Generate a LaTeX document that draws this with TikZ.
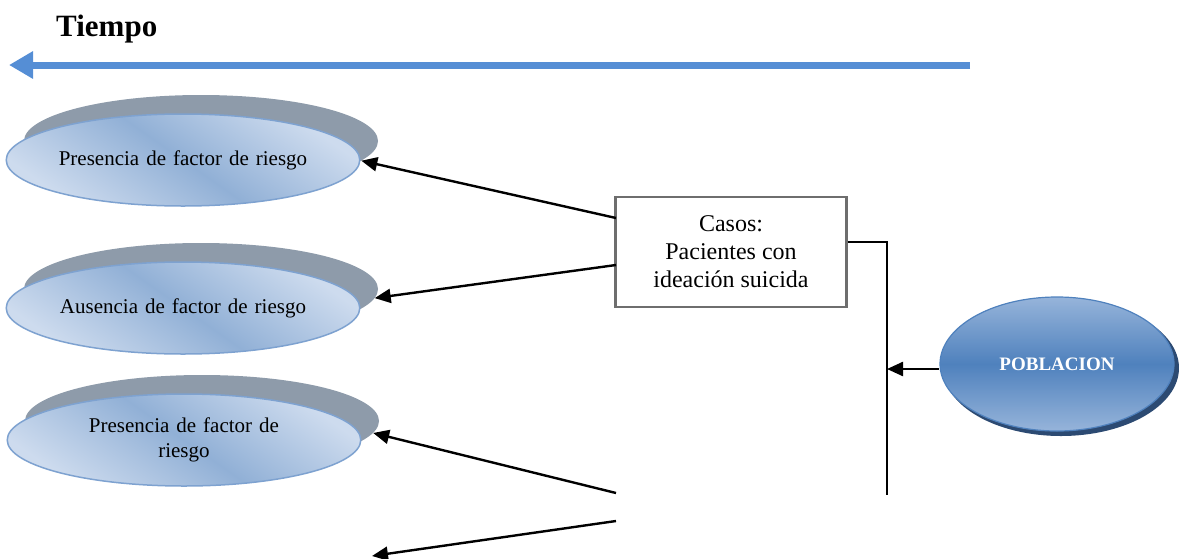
\documentclass[tikz,border=0pt]{standalone}
\usepackage{fontspec}
\setmainfont{Liberation Serif}
\usetikzlibrary{shapes.geometric,arrows.meta}
\definecolor{timeblue}{RGB}{85,142,213}
\definecolor{shadowgrey}{RGB}{142,155,170}
\definecolor{lightfill}{RGB}{205,219,238}
\definecolor{darkfill}{RGB}{145,176,214}
\definecolor{ellborder}{RGB}{126,162,208}
\definecolor{popmid}{RGB}{79,129,189}
\definecolor{poplight}{RGB}{150,180,218}
\definecolor{popshadow}{RGB}{44,74,114}
\definecolor{boxgrey}{RGB}{110,110,110}
\tikzset{
  ellshadow/.style={ellipse, fill=shadowgrey, minimum width=354pt, minimum height=92pt, inner sep=0pt},
  ellfront/.style={ellipse, draw=ellborder, line width=1.5pt, minimum width=350pt, minimum height=92pt, inner sep=0pt,
    shading=axis, top color=lightfill, bottom color=lightfill, middle color=darkfill, shading angle=-35,
    font=\fontsize{21}{25}\selectfont, align=center, text width=250pt},
  casebox/.style={draw=boxgrey, line width=2.2pt, minimum width=231pt, minimum height=110pt, inner sep=0pt,
    align=center, font=\fontsize{24}{28}\selectfont},
  conn/.style={line width=2.4pt, -{Triangle[length=16pt,width=14pt]}},
  plain/.style={line width=2pt},
}
\begin{document}
\begin{tikzpicture}[x=1pt,y=-1pt]
\useasboundingbox (0,0) rectangle (1179,558);
% title and time arrow
\node[font=\fontsize{31}{34}\selectfont\bfseries, anchor=west, inner sep=0pt] (title) at (56,29) {Tiempo};
\coordinate (tstart) at (970,65);
\coordinate (tend) at (9,65);
\draw[timeblue, line width=7pt, -{Triangle[length=24pt,width=26pt]}] (tstart) -- (tend);
% ellipses
\node[ellshadow] (s1) at (201,141) {};
\node[ellfront] (e1) at (183,160) {Presencia de factor de riesgo};
\node[ellshadow] (s2) at (201,289) {};
\node[ellfront] (e2) at (183,308) {Ausencia de factor de riesgo};
\node[ellshadow] (s3) at (202,421) {};
\node[ellfront] (e3) at (184,440) {Presencia de factor de\\riesgo};
% case box
\node[casebox] (casos) at (731,252) {Casos:\\Pacientes con\\ideación suicida};
% poblacion
\node[ellipse, fill=popshadow, minimum width=236pt, minimum height=136pt] (popsh) at (1061,368) {};
\node[ellipse, draw=popmid, line width=1.2pt, minimum width=234pt, minimum height=134pt, inner sep=0pt,
  shading=axis, top color=poplight, bottom color=poplight, middle color=popmid,
  text=white, font=\fontsize{19}{22}\selectfont\bfseries] (pob) at (1057,364) {POBLACION};
% connectors
\coordinate (c1) at (616,218);
\coordinate (c2) at (616,265);
\coordinate (c3) at (616,493);
\coordinate (c4) at (616,521);
\coordinate (off) at (372,556);
\draw[conn] (c1) -- (s1.-7);
\draw[conn] (c2) -- (s2.-3);
\draw[conn] (c3) -- (s3.-4);
\draw[conn] (c4) -- (off);
% bracket line
\coordinate (vtop) at (887,242);
\coordinate (vbot) at (887,495);
\coordinate (vmid) at (887,369);
\draw[plain] (casos.east |- vtop) -- (vtop) -- (vbot);
\draw[conn] (pob.west |- vmid) -- (vmid);
\end{tikzpicture}
\end{document}
